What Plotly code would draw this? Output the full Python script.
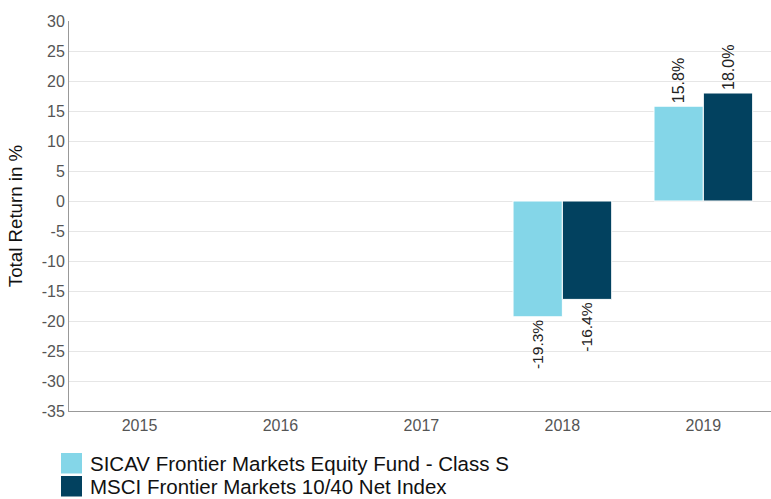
import plotly.graph_objects as go

years = ["2015", "2016", "2017", "2018", "2019"]
fund_name = "SICAV Frontier Markets Equity Fund - Class S"
index_name = "MSCI Frontier Markets 10/40 Net Index"
fund_values = [None, None, None, -19.3, 15.8]
index_values = [None, None, None, -16.4, 18.0]
y_ticks = [30, 25, 20, 15, 10, 5, 0, -5, -10, -15, -20, -25, -30, -35]
fund_color = "#84d6e8"
index_color = "#02415f"

FONT = "Liberation Sans, Arial, sans-serif"
W, H = 771, 499
ML, MR, MT, MB = 69, 0, 21, 88
PW, PH = W - ML - MR, H - MT - MB


def labels(vals):
    return ["" if v is None else f"{v:.1f}%" for v in vals]


def px(x):
    return (x - ML) / PW


def py(y):
    return (H - MB - y) / PH


fig = go.Figure()
for name, vals, col in [(fund_name, fund_values, fund_color), (index_name, index_values, index_color)]:
    fig.add_trace(go.Bar(x=years, y=vals, name=name,
                         marker=dict(color=col, line=dict(color="white", width=1)),
                         text=labels(vals), textposition="outside", textangle=-90,
                         textfont=dict(family=FONT, size=16, color="#222222"),
                         cliponaxis=False, showlegend=False))

# legend drawn as swatches + text
legend_items = [(fund_name, fund_color, 453), (index_name, index_color, 476)]
shapes = []
annotations = []
for name, col, top in legend_items:
    shapes.append(dict(type="rect", xref="paper", yref="paper",
                       x0=px(61), x1=px(82), y0=py(top + 20.5), y1=py(top),
                       fillcolor=col, line=dict(width=0)))
    annotations.append(dict(text=name, xref="paper", yref="paper", x=px(88), y=py(top + 10.5),
                            xanchor="left", yanchor="middle", showarrow=False,
                            font=dict(family=FONT, size=20.5, color="#111111")))

fig.update_layout(
    width=W, height=H,
    margin=dict(l=ML, r=MR, t=MT, b=MB, autoexpand=False),
    paper_bgcolor="white", plot_bgcolor="white",
    font=dict(family=FONT, color="#444444"),
    barmode="group", bargap=0.3, bargroupgap=0,
    showlegend=False,
    shapes=shapes,
    annotations=annotations,
    xaxis=dict(type="category", range=[-0.5, 4.48], showline=True, linecolor="#999999", linewidth=1,
               tickfont=dict(family=FONT, size=16, color="#555555"), ticks="", showgrid=False),
    yaxis=dict(range=[-35, 30], tickvals=y_ticks, ticktext=[str(t) for t in y_ticks],
               showline=True, linecolor="#999999", linewidth=1,
               gridcolor="#e6e6e6", zeroline=False, ticks="",
               tickfont=dict(family=FONT, size=16, color="#555555"),
               title=dict(text="Total Return in %", font=dict(family=FONT, size=18.7, color="#111111"), standoff=14)),
)

fig.write_html("out.html")
